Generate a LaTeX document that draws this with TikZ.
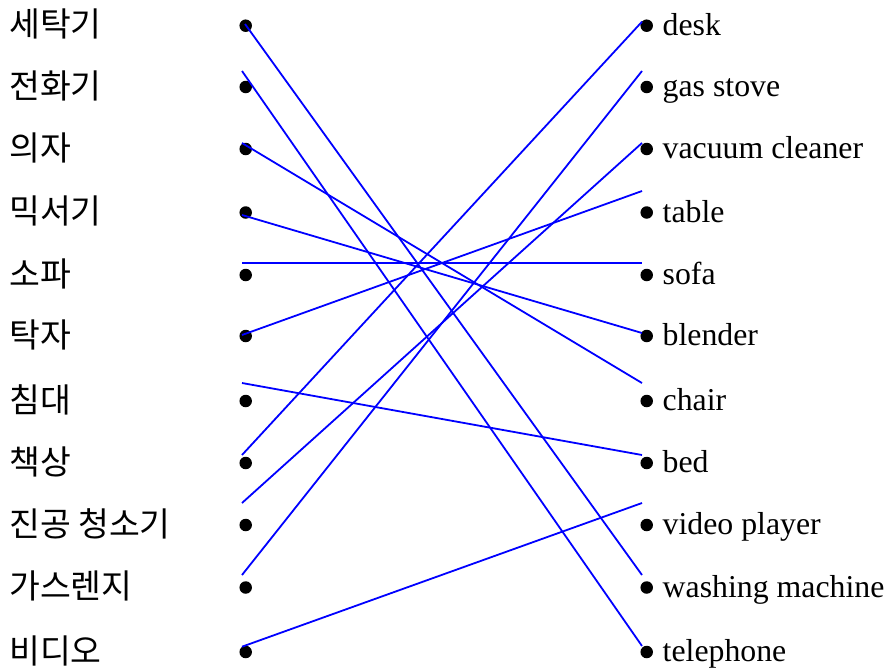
\documentclass[tikz,border=0pt]{standalone}
\usepackage{fontspec}
\setmainfont{Liberation Serif}
\newfontfamily\krfont{Noto Sans CJK KR}
\begin{document}
\begin{tikzpicture}[x=1pt,y=-1pt,
  dotnode/.style={circle,fill=black,inner sep=0pt,minimum size=12.5pt},
  conn/.style={draw=blue,line width=1.8pt},
  englab/.style={anchor=base west,inner sep=0pt,font=\fontsize{31.8}{36}\selectfont},
  korlab/.style={anchor=base west,inner sep=0pt,font=\krfont\fontsize{33.5}{38}\selectfont}]
\useasboundingbox (0,0) rectangle (887,670);
% left column
\foreach \i/\y/\t in {1/25.7/세탁기,2/87/전화기,3/149/의자,4/212.5/믹서기,5/275/소파,6/336/탁자,7/401/침대,8/463/책상,9/525/진공 청소기,10/587.5/가스렌지,11/652/비디오}{
  \node[dotnode] (l\i) at (245.7,\y) {};
  \node[korlab] (lt\i) at (9,\y+11) {\t};
}
% right column
\foreach \i/\y/\t in {1/25.7/desk,2/87/gas stove,3/149/vacuum cleaner,4/212.5/table,5/275/sofa,6/336/blender,7/401/chair,8/463/bed,9/525/video player,10/587.5/washing machine,11/652/telephone}{
  \node[dotnode] (r\i) at (646.7,\y) {};
  \node[englab] (rt\i) at (662.5,\y+9.5) {\t};
}
% connector end points
\foreach \i/\ya/\yb in {1/24/575,2/71/646,3/143/383,4/215/333,5/263/263,6/335/191,7/383/455,8/455/21.7,9/503/143,10/575/71,11/646.7/503}{
  \coordinate (a\i) at (242,\ya);
  \coordinate (b\i) at (642,\yb);
}
\coordinate (a1) at (245,24);
\foreach \i in {1,...,11}{
  \draw[conn] (a\i) -- (b\i);
}
\end{tikzpicture}
\end{document}
